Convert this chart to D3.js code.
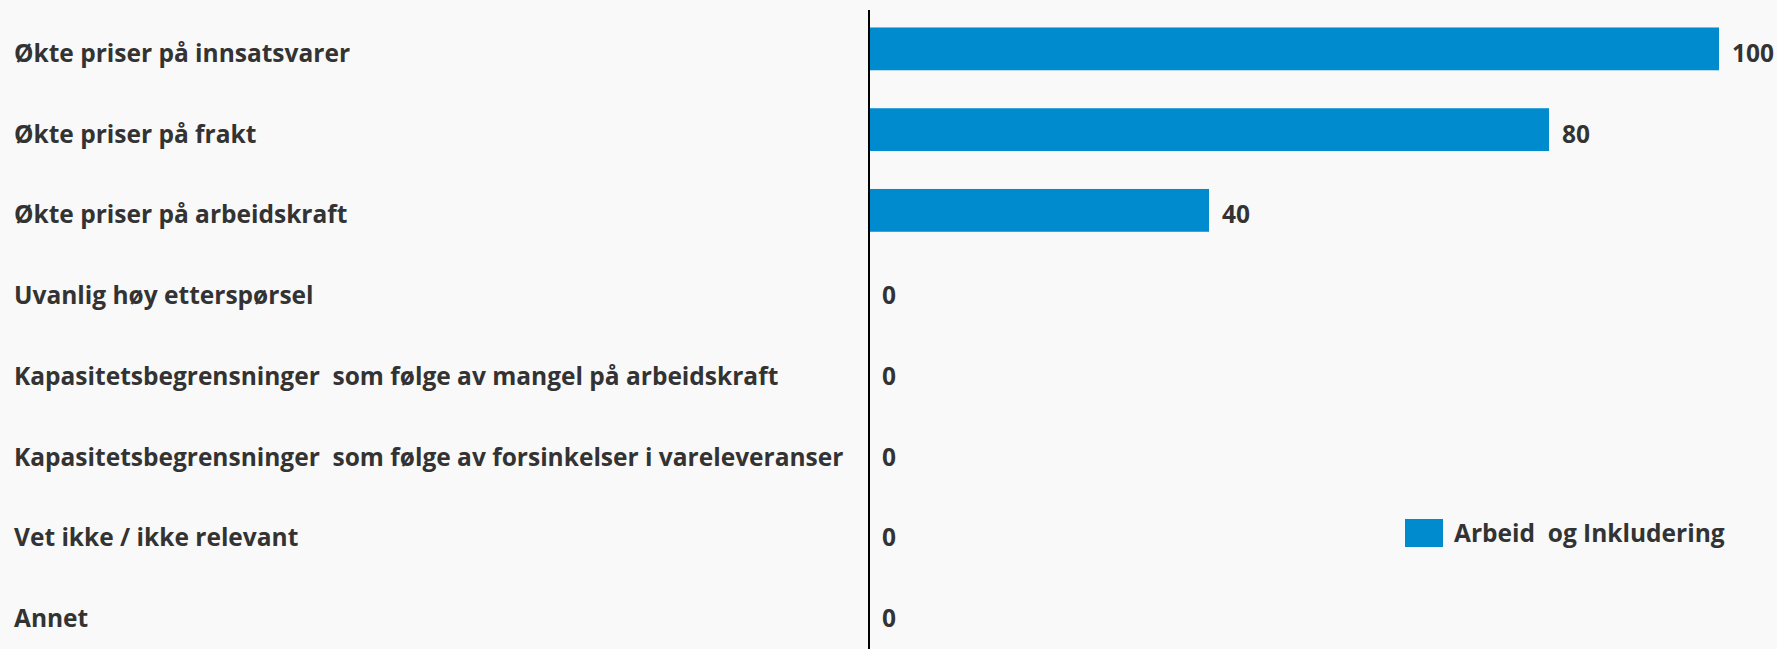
<!DOCTYPE html>
<html>
<head>
<meta charset="utf-8">
<script src="https://cdn.jsdelivr.net/npm/d3@7"></script>
<style>
  html, body { margin: 0; padding: 0; background: #f9f9f9; }
  svg { display: block; }
</style>
</head>
<body>
<script>
    const WIDTH = 1777, HEIGHT = 649;
    const TEXT_DROP = 4.5; // labels sit a bit below bar centre

    var categories = [
        "Økte priser på innsatsvarer",
        "Økte priser på frakt",
        "Økte priser på arbeidskraft",
        "Uvanlig høy etterspørsel",
        "Kapasitetsbegrensninger  som følge av mangel på arbeidskraft",
        "Kapasitetsbegrensninger  som følge av forsinkelser i vareleveranser",
        "Vet ikke / ikke relevant",
        "Annet"
    ];
    var values = [100, 80, 40, 0, 0, 0, 0, 0];
    var seriesName = "Arbeid  og Inkludering";

    var svg = d3.select("body").append("svg")
        .attr("width", WIDTH)
        .attr("height", HEIGHT)
        .attr("font-family", "'Open Sans', 'Noto Sans', sans-serif")
        .attr("font-weight", "bold")
        .attr("font-size", "24.5px")
        .style("background", "#f9f9f9");

    var x = d3.scaleLinear()
        .domain([0, 100])
        .range([869, 1719]);

    var y = d3.scaleBand()
        .domain(categories)
        .range([8.5, 654.5])
        .paddingInner(0.47)
        .paddingOuter(0.235);

    var rows = categories.map(function(c, i) { return { name: c, value: values[i] }; });

    function textY(d) { return y(d.name) + y.bandwidth() / 2 + TEXT_DROP; }

    // category labels
    svg.append("g").selectAll("text")
        .data(rows)
        .enter().append("text")
            .attr("x", 14)
            .attr("y", textY)
            .attr("dy", "0.35em")
            .attr("fill", "#333")
            .style("white-space", "pre")
            .text(function(d) { return d.name; });

    // bars
    svg.append("g").selectAll("rect")
        .data(rows)
        .enter().append("rect")
            .attr("x", x(0))
            .attr("y", function(d) { return y(d.name); })
            .attr("width", function(d) { return x(d.value) - x(0); })
            .attr("height", y.bandwidth())
            .attr("fill", "#008bce");

    // value labels
    svg.append("g").selectAll("text")
        .data(rows)
        .enter().append("text")
            .attr("x", function(d) { return x(d.value) + 13; })
            .attr("y", textY)
            .attr("dy", "0.35em")
            .attr("fill", "#333")
            .text(function(d) { return d.value; });

    // axis line
    svg.append("line")
        .attr("x1", x(0)).attr("x2", x(0))
        .attr("y1", 10).attr("y2", HEIGHT)
        .attr("stroke", "#000")
        .attr("stroke-width", 2);

    // legend
    var legend = svg.append("g").attr("transform", "translate(1405,519)");
    legend.append("rect")
        .attr("width", 38)
        .attr("height", 28)
        .attr("fill", "#008bce");
    legend.append("text")
        .attr("x", 49)
        .attr("y", 14)
        .attr("dy", "0.35em")
        .attr("fill", "#333")
        .style("white-space", "pre")
        .text(seriesName);
</script>
</body>
</html>
